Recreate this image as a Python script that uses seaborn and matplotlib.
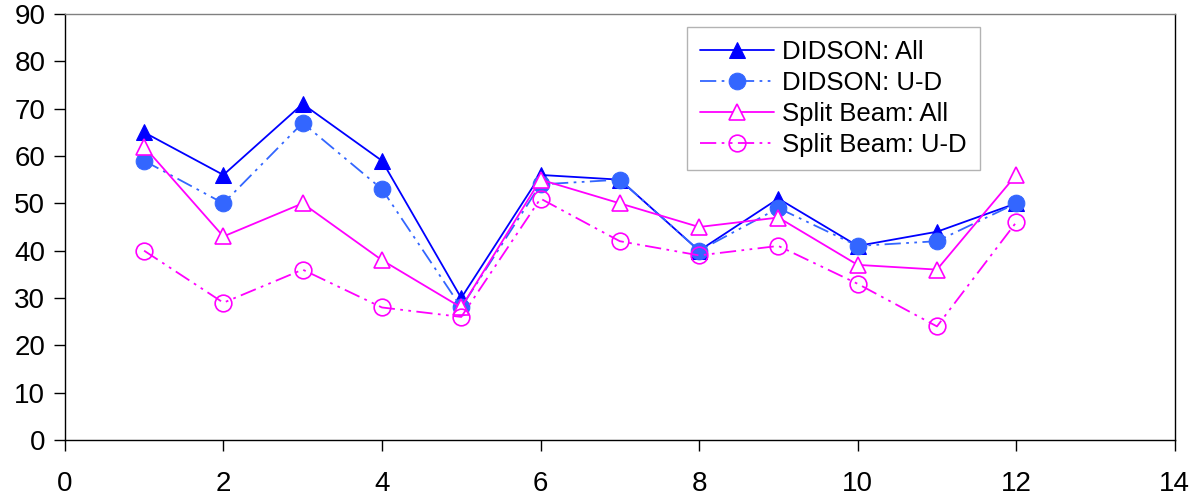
import numpy as np
import pandas as pd
import matplotlib
matplotlib.use("Agg")
import matplotlib.pyplot as plt
import seaborn as sns

# Data
x_vals = [1, 2, 3, 4, 5, 6, 7, 8, 9, 10, 11, 12]
didson_all = [65, 56, 71, 59, 30, 56, 55, 40, 51, 41, 44, 50]
didson_ud = [59, 50, 67, 53, 28, 54, 55, 40, 49, 41, 42, 50]
split_all = [62, 43, 50, 38, 28, 55, 50, 45, 47, 37, 36, 56]
split_ud = [40, 29, 36, 28, 26, 51, 42, 39, 41, 33, 24, 46]
series_names = ["DIDSON: All", "DIDSON: U-D", "Split Beam: All", "Split Beam: U-D"]

sns.set_style("white")
plt.rcParams['font.family'] = ['Liberation Sans', 'DejaVu Sans']
plt.rcParams['text.color'] = 'black'
plt.rcParams['xtick.color'] = 'black'
plt.rcParams['ytick.color'] = 'black'

fig = plt.figure(figsize=(12, 5), dpi=100)
ax = fig.add_axes([0.054, 0.12, 0.925, 0.852])

dashdotdot = (0, (9, 3, 1.5, 3, 1.5, 3))
styles = [
    dict(color='#0000FF', linestyle='-', marker='^', markersize=12, mfc='#0000FF', mec='#0000FF'),
    dict(color='#3366FF', linestyle=dashdotdot, marker='o', markersize=12, mfc='#3366FF', mec='#3366FF'),
    dict(color='#FF00FF', linestyle='-', marker='^', markersize=12, mfc='white', mec='#FF00FF', mew=1.2),
    dict(color='#FF00FF', linestyle=dashdotdot, marker='o', markersize=12, mfc='none', mec='#FF00FF', mew=1.2),
]

for name, vals, st in zip(series_names, [didson_all, didson_ud, split_all, split_ud], styles):
    df = pd.DataFrame({"x": x_vals, "y": vals})
    sns.lineplot(data=df, x="x", y="y", ax=ax, label=name, linewidth=1.3, **st)

ax.set_xlim(0, 14)
ax.set_ylim(0, 90)
ax.set_xticks(np.arange(0, 15, 2))
ax.set_yticks(np.arange(0, 91, 10))
ax.set_xlabel("")
ax.set_ylabel("")
ax.tick_params(axis='both', labelsize=20, labelcolor='black', direction='out', length=8,
               width=1, color='black', bottom=True, left=True)
ax.tick_params(axis='x', pad=14)
ax.tick_params(axis='y', pad=6)
for s in ax.spines.values():
    s.set_color('black')
    s.set_linewidth(1)
ax.spines['top'].set_color('#808080')

leg = ax.legend(loc='upper left', bbox_to_anchor=(0.5725, 0.946), bbox_transform=fig.transFigure,
                fontsize=18.5, frameon=True, fancybox=False, edgecolor='#A0A0A0',
                handlelength=2.9, handletextpad=0.3, borderpad=0.5, labelspacing=0.28,
                borderaxespad=0)
leg.get_frame().set_linewidth(1)
for t in leg.get_texts():
    t.set_color('black')

fig.savefig("out.png", dpi=100)
